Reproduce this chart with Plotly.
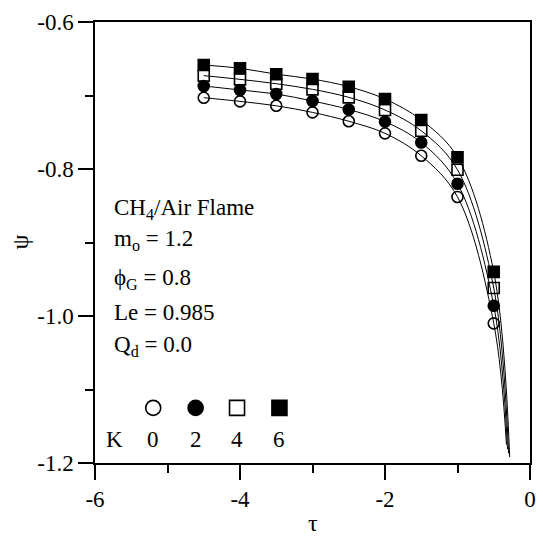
import plotly.graph_objects as go

# ---- data ----
tau = [-4.5, -4.0, -3.5, -3.0, -2.5, -2.0, -1.5, -1.0, -0.5]
psi_K0 = [-0.703, -0.708, -0.714, -0.723, -0.735, -0.7515, -0.782, -0.838, -1.010]
psi_K2 = [-0.687, -0.6925, -0.698, -0.7075, -0.719, -0.7356, -0.764, -0.820, -0.986]
psi_K4 = [-0.673, -0.678, -0.684, -0.6916, -0.7025, -0.7197, -0.748, -0.801, -0.962]
psi_K6 = [-0.6585, -0.663, -0.671, -0.6776, -0.688, -0.7048, -0.7333, -0.784, -0.940]
K_values = ["0", "2", "4", "6"]
# end points of the fitted curves
tau_end = [-0.325, -0.31, -0.295, -0.28]
psi_end = [-1.175, -1.181, -1.187, -1.192]

x_tickvals = [-6, -4, -2, 0]
x_ticktext = ["-6", "-4", "-2", "0"]
y_tickvals = [-1.2, -1.0, -0.8, -0.6]
y_ticktext = ["-1.2", "-1.0", "-0.8", "-0.6"]

info_lines = ["CH<sub>4</sub>/Air Flame", "m<sub>o</sub> = 1.2", "\u03d5<sub>G</sub> = 0.8",
              "Le = 0.985", "Q<sub>d</sub> = 0.0"]

# key (legend) positions in data coordinates
key_x = [-5.197, -4.612, -4.041, -3.456]
key_y_marker = -1.125
key_y_label = -1.1687
key_K_x = -5.73

FONT = "Liberation Serif"
series = [psi_K0, psi_K2, psi_K4, psi_K6]
symbols = ["circle-open", "circle", "square-open", "square"]

fig = go.Figure()
for i, s in enumerate(series):
    fig.add_trace(go.Scatter(x=tau + [tau_end[i]], y=s + [psi_end[i]], mode="lines",
                             line=dict(color="black", width=1, shape="spline", smoothing=1.0),
                             showlegend=False, hoverinfo="skip"))
for i, s in enumerate(series):
    fig.add_trace(go.Scatter(x=tau, y=s, mode="markers",
                             marker=dict(symbol=symbols[i], size=11, color="black",
                                         line=dict(color="black", width=1.6)),
                             showlegend=False))
# key markers
for i in range(4):
    fig.add_trace(go.Scatter(x=[key_x[i]], y=[key_y_marker], mode="markers",
                             marker=dict(symbol=symbols[i], size=15, color="black",
                                         line=dict(color="black", width=1.6)),
                             showlegend=False, hoverinfo="skip"))

ann = []
info_y = [209, 240, 279, 312, 346]
for t, py in zip(info_lines, info_y):
    ann.append(dict(text=t, xref="paper", yref="paper", x=(112 - 95) / 441, y=(463 - py) / 441,
                    xanchor="left", yanchor="middle", showarrow=False,
                    font=dict(family=FONT, size=23, color="black")))
ann.append(dict(text="K", x=key_K_x, y=key_y_label, xref="x", yref="y", showarrow=False,
                xanchor="center", yanchor="middle", font=dict(family=FONT, size=23, color="black")))
for i in range(4):
    ann.append(dict(text=K_values[i], x=key_x[i], y=key_y_label, xref="x", yref="y", showarrow=False,
                    xanchor="center", yanchor="middle", font=dict(family=FONT, size=23, color="black")))
# axis titles
ann.append(dict(text="τ", xref="paper", yref="paper", x=0.5, y=(463 - 523) / 441, xanchor="center",
                yanchor="middle", showarrow=False, font=dict(family=FONT, size=24, color="black")))
ann.append(dict(text="ψ", xref="paper", yref="paper", x=(18 - 95) / 441, y=0.5, xanchor="center",
                yanchor="middle", showarrow=False, textangle=-90,
                font=dict(family=FONT, size=24, color="black")))

axis_common = dict(showgrid=False, zeroline=False, showline=True, linecolor="black", linewidth=1.5,
                   mirror=True, ticks="outside", ticklen=15, tickwidth=1.5, tickcolor="black",
                   tickfont=dict(family=FONT, size=23, color="black"))
fig.update_layout(
    width=543, height=539, margin=dict(l=95, r=7, t=22, b=76),
    paper_bgcolor="white", plot_bgcolor="white", showlegend=False,
    annotations=ann,
    xaxis=dict(range=[-6, 0], tickvals=x_tickvals, ticktext=x_ticktext,
               minor=dict(dtick=1, tick0=0, ticks="outside", ticklen=8, tickwidth=1.5, tickcolor="black"),
               **axis_common),
    yaxis=dict(range=[-1.2, -0.6], tickvals=y_tickvals, ticktext=y_ticktext,
               minor=dict(dtick=0.1, tick0=0, ticks="outside", ticklen=8, tickwidth=1.5, tickcolor="black"),
               **axis_common),
)
fig.write_html("out.html")
